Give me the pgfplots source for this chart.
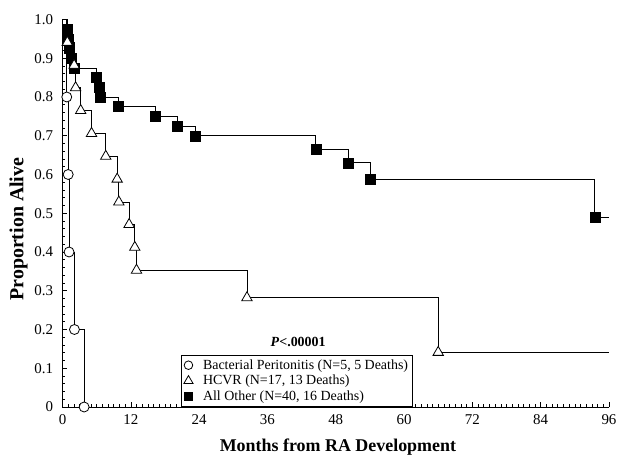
\documentclass[border=0pt]{standalone}
\usepackage{fontspec}
\setmainfont{Liberation Serif}
\usepackage{pgfplots}
\pgfplotsset{compat=1.18}
\begin{document}
\begin{tikzpicture}
\begin{axis}[
  at={(0,0)}, anchor=south west,
  width=546.5bp, height=387.5bp, scale only axis,
  xmin=0, xmax=96, ymin=0, ymax=1,
  axis x line*=bottom, axis y line*=left,
  axis line style={black, line width=0.8bp, -},
  xtick={0,12,24,36,48,60,72,84,96},
  minor x tick num=11,
  ytick={0,0.1,0.2,0.3,0.4,0.5,0.6,0.7,0.8,0.9,1.0},
  yticklabels={0,0.1,0.2,0.3,0.4,0.5,0.6,0.7,0.8,0.9,1.0},
  minor y tick num=4,
  tick align=inside,
  major tick length=5bp, minor tick length=3bp,
  tick style={black, line width=0.6bp},
  /pgf/number format/assume math mode=true,
  ticklabel style={font=\fontsize{15}{18}\selectfont},
  xticklabel style={yshift=-4bp},
  yticklabel style={xshift=-6bp},
  xlabel={Months from RA Development},
  ylabel={Proportion Alive},
  xlabel style={font=\bfseries\fontsize{18}{21}\selectfont, at={(axis description cs:0.504,-0.1032)}, anchor=center},
  ylabel style={font=\bfseries\fontsize{20}{23}\selectfont, at={(axis description cs:-0.0805,0.459)}, anchor=center},
  clip=false,
  legend style={at={(rel axis cs:0.2168,0)}, anchor=south west, draw=black,
    line width=0.8bp, font=\fontsize{14}{16}\selectfont,
    inner sep=2.5bp, row sep=0.5bp, column sep=8bp},
  legend cell align=left,
]
\addlegendimage{only marks, mark=*, mark size=4.3bp, mark options={fill=white, draw=black, line width=0.8bp}}
\addlegendentry{Bacterial Peritonitis (N=5, 5 Deaths)}
\addlegendimage{only marks, mark=triangle*, mark size=5.3bp, mark options={fill=white, draw=black, line width=0.8bp}}
\addlegendentry{HCVR (N=17, 13 Deaths)}
\addlegendimage{only marks, mark=square*, mark size=4.2bp, mark options={fill=black, draw=black}}
\addlegendentry{All Other (N=40, 16 Deaths)}

% lines
\addplot[const plot, black, line width=0.8bp, forget plot] coordinates {
(0,1)(0.9,0.975)(1.0,0.95)(1.1,0.925)(1.5,0.90)(2.1,0.875)(6.0,0.85)(6.4,0.825)(6.7,0.80)(9.8,0.775)(16.3,0.75)(20.1,0.725)(23.3,0.70)(44.5,0.665)(50.2,0.63)(54.0,0.588)(93.5,0.49)(96,0.49)};
\addplot[const plot, black, line width=0.8bp, forget plot] coordinates {
(0,1)(0.85,0.941)(2.05,0.882)(2.3,0.824)(3.2,0.765)(5.1,0.706)(7.6,0.647)(9.6,0.588)(9.9,0.529)(11.7,0.471)(12.7,0.412)(13.0,0.353)(32.4,0.282)(66.0,0.141)(96,0.141)};
\addplot[const plot, black, line width=0.8bp, forget plot] coordinates {
(0,1)(0.75,0.8)(1.0,0.6)(1.15,0.4)(2.1,0.2)(3.8,0)};

% marks
\addplot[only marks, mark=square*, mark size=5bp, mark options={fill=black, draw=black}, forget plot] coordinates {
(0.9,0.975)(1.0,0.95)(1.1,0.925)(1.5,0.90)(2.1,0.875)(6.0,0.85)(6.4,0.825)(6.7,0.80)(9.8,0.775)(16.3,0.75)(20.1,0.725)(23.3,0.70)(44.5,0.665)(50.2,0.63)(54.0,0.588)(93.5,0.49)};
\addplot[only marks, mark=triangle*, mark size=6bp, mark options={fill=white, draw=black, line width=0.8bp}, forget plot] coordinates {
(0.85,0.941)(2.05,0.882)(2.3,0.824)(3.2,0.765)(5.1,0.706)(7.6,0.647)(9.6,0.588)(9.9,0.529)(11.7,0.471)(12.7,0.412)(13.0,0.353)(32.4,0.282)(66.0,0.141)};
\addplot[only marks, mark=*, mark size=5bp, mark options={fill=white, draw=black, line width=0.8bp}, forget plot] coordinates {
(0.75,0.8)(1.0,0.6)(1.15,0.4)(2.1,0.2)(3.8,0)};

\node[font=\bfseries\fontsize{14}{16}\selectfont] at (axis cs:41.4,0.168) {\textit{P}<.00001};
\end{axis}
\pgfresetboundingbox
\path[use as bounding box] (-62.5bp,-56bp) rectangle (560.5bp,407bp);
\end{tikzpicture}
\end{document}
